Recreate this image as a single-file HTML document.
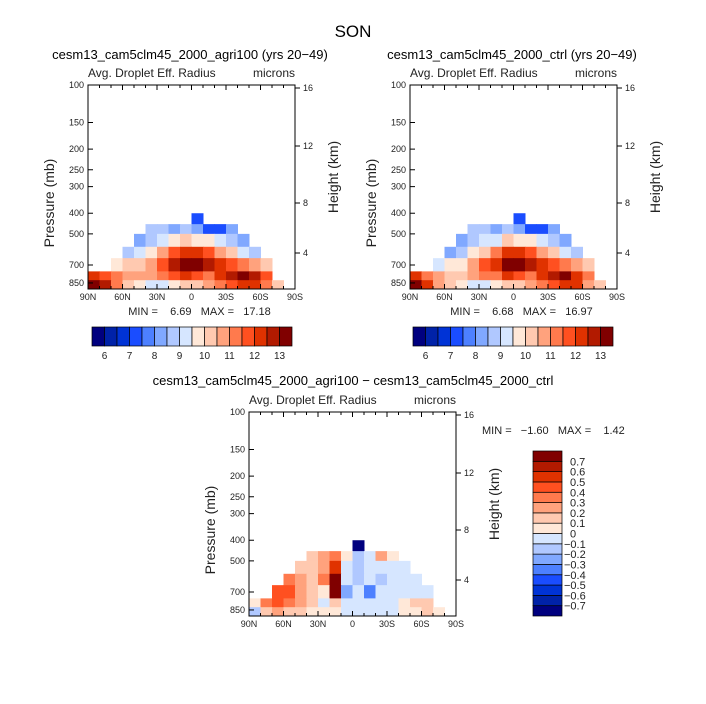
<!DOCTYPE html>
<html><head><meta charset="utf-8"><style>
body{margin:0;background:#fff}
svg{display:block;font-family:"Liberation Sans",sans-serif}
text{white-space:pre}
</style></head><body>
<svg id="c" width="706" height="704" viewBox="0 0 706 704">
<text x="353" y="37" font-size="17" text-anchor="middle">SON</text>
<text x="190" y="59" font-size="13" text-anchor="middle">cesm13_cam5clm45_2000_agri100 (yrs 20−49)</text>
<text x="512" y="59" font-size="13" text-anchor="middle">cesm13_cam5clm45_2000_ctrl (yrs 20−49)</text>
<text x="353" y="385" font-size="13" text-anchor="middle">cesm13_cam5clm45_2000_agri100 − cesm13_cam5clm45_2000_ctrl</text>
</svg>
<script>
const lats=["90N","60N","30N","0","30S","60S","90S"];
const pTicks=[100,150,200,250,300,400,500,700,850];
const hTicks=["16","12","8","4"];
const rowTops=[400,450,500,575,650,750,825];
const rowBots=[450,500,575,650,750,825,900];
const levelsMain=[6,6.5,7,7.5,8,8.5,9,9.5,10,10.5,11,11.5,12,12.5,13];
const levelsDiff=[-0.7,-0.6,-0.5,-0.4,-0.3,-0.2,-0.1,0,0.1,0.2,0.3,0.4,0.5,0.6,0.7];
const n=null;
const agri=[
[n,n,n,n,n,n,n,n,n,7,n,n,n,n,n,n,n,n],
[n,n,n,n,n,8.5,8.5,8,8.5,8,7,7,8,n,n,n,n,n],
[n,n,n,n,8,8.5,9,9.5,10,9.5,9.5,9,8.5,8,n,n,n,n],
[n,n,n,8.5,9,9.5,10.5,11.5,12.2,12,11.5,10.5,10,9,8.5,n,n,n],
[n,n,9.5,10,10,10.5,11.5,12.5,13.5,13,12.5,12,11.5,11,10.5,10,n,n],
[12,11.5,11,10.5,10.5,10.5,11,11.5,12,11.5,11,12,12.5,13,12.5,11.5,n,n],
[13,12.5,11,10,9.5,9,9,9.5,10,10,10.5,11,11.5,12,12,11,10,n]];
const ctrl=[
[n,n,n,n,n,n,n,n,n,7,n,n,n,n,n,n,n,n],
[n,n,n,n,n,8.5,8.5,8,8.5,8,7,7,8,n,n,n,n,n],
[n,n,n,n,8,8.5,9,9.2,10,9.5,9.5,9,8.5,8,n,n,n,n],
[n,n,n,8.3,8.8,9.5,10.3,11,12,12,11.5,10.5,10,9,8.5,n,n,n],
[n,n,9.2,9.7,9.8,10.5,11.5,12,13.5,13,12.7,12,11.5,11,10.5,10,n,n],
[12,11.2,10.7,10.2,10.3,10.5,11,11.4,12,11.5,11.1,12,12.5,13,12.4,11.4,n,n],
[13,12.4,10.9,10,9.5,9,9,9.5,10,10,10.5,11,11.5,12,12,10.9,10,n]];
const diff=[
[n,n,n,n,n,n,n,n,n,-0.75,n,n,n,n,n,n,n,n],
[n,n,n,n,n,0.1,0.2,0.3,0.05,-0.2,-0.1,0.2,0.05,n,n,n,n,n],
[n,n,n,n,0.1,0.15,0.2,0.5,-0.1,-0.2,-0.1,-0.1,-0.05,-0.1,n,n,n,n],
[n,n,n,0.3,0.2,0.1,0.3,0.75,-0.1,-0.2,-0.05,-0.2,-0.1,-0.05,-0.1,n,n,n],
[n,n,0.45,0.4,0.2,0.1,0.05,0.75,-0.3,-0.1,-0.4,-0.1,-0.1,-0.05,-0.1,-0.05,n,n],
[0.05,0.3,0.4,0.3,0.2,0.1,-0.1,0.1,-0.05,-0.05,-0.1,-0.05,-0.05,0.05,0.1,0.1,n,n],
[-0.2,0.1,0.2,0.1,0.1,0.05,0.05,0.05,-0.05,-0.05,-0.05,-0.05,-0.05,0.05,0.05,0.1,0.05,n]];
const colors=["#00007f","#0022a8","#0033d6","#1a4dff","#4d80ff","#80a8ff","#b0c8ff","#d6e6ff","#ffe8d8","#ffc9b0","#ffa27d","#ff7a4d","#ff5020","#e03200","#b21a00","#800000"];

const NS="http://www.w3.org/2000/svg";
const svg=document.getElementById('c');
function el(tag,attrs,parent){const e=document.createElementNS(NS,tag);for(const k in attrs)e.setAttribute(k,attrs[k]);(parent||svg).appendChild(e);return e;}
function txt(x,y,s,size,anchor,parent){const t=el('text',{x:x,y:y,'font-size':size,'text-anchor':anchor||'middle',fill:'#222'},parent);t.textContent=s;return t;}
function colorFor(v,lv){let i=0;while(i<lv.length&&v>=lv[i])i++;return colors[i];}

function panel(ox,oy,field,lv,name,minmax){
  const W=207,H=204,k=92.5;
  const g=el('g',{});
  
  
  const xS=lat=>ox+(lat/180)*W;
  const yS=p=>oy+Math.log(p/100)*k;
  const cols=field[0].length;
  field.forEach((row,r)=>row.forEach((v,c)=>{
    if(v===null)return;
    const x0=xS(c*180/cols),x1=xS((c+1)*180/cols);
    const y0=yS(rowTops[r]),y1=Math.min(yS(rowBots[r]),oy+H);
    const rc=el('rect',{x:x0,y:y0,width:x1-x0+0.5,height:y1-y0+0.5,fill:colorFor(v,lv)},g);
    
    
  }));
  el('rect',{x:ox,y:oy,width:W,height:H,fill:'none',stroke:'#000','stroke-width':1},g);
  for(let d=0;d<=180;d+=10){const x=xS(d);const L=d%30===0?5:3;
    el('line',{x1:x,x2:x,y1:oy+H,y2:oy+H-L,stroke:'#000'},g);
    el('line',{x1:x,x2:x,y1:oy,y2:oy+L,stroke:'#000'},g);}
  lats.forEach((s,i)=>txt(xS(i*30),oy+H+11,s,9,'middle',g));
  pTicks.forEach(p=>{const y=yS(p);el('line',{x1:ox,x2:ox+5,y1:y,y2:y,stroke:'#000'},g);
    txt(ox-4,y+3,String(p),9,'end',g);});
  const hy=[3,61,118,168];
  hTicks.forEach((s,i)=>{const y=oy+hy[i];el('line',{x1:ox+W,x2:ox+W+5,y1:y,y2:y,stroke:'#000'},g);
    txt(ox+W+8,y+3,s,9,'start',g);});
  const yl=txt(0,0,'Pressure (mb)',14,'middle',g);yl.setAttribute('transform',`translate(${ox-34},${oy+H/2+16}) rotate(-90)`);
  
  const yr=txt(0,0,'Height (km)',14,'middle',g);yr.setAttribute('transform',`translate(${ox+W+43},${oy+H/2-10}) rotate(-90)`);
  
  txt(ox,oy-8,'Avg. Droplet Eff. Radius',12,'start',g);
  txt(ox+W,oy-8,'microns',12,'end',g);
  if(minmax)txt(ox+W/2+8,oy+H+26,minmax,11,'middle',g);
}
function hbar(ox,oy,name){
  const g=el('g',{});
  const w=12.5;
  colors.forEach((c,i)=>el('rect',{x:ox+i*w,y:oy,width:w,height:19,fill:c,stroke:'#000','stroke-width':0.7},g));
  levelsMain.forEach((v,i)=>{if(Number.isInteger(v))txt(ox+(i+1)*w,oy+32,String(v),10,'middle',g);});
}
panel(88,85,agri,levelsMain,'agri100-panel','MIN =    6.69   MAX =   17.18');
panel(410,85,ctrl,levelsMain,'ctrl-panel','MIN =    6.68   MAX =   16.97');
panel(249,412,diff,levelsDiff,'diff-panel',null);
hbar(92,327,'left-colorbar');
hbar(413,327,'right-colorbar');
txt(482,434,'MIN =   −1.60   MAX =    1.42',11,'start');
const vb=el('g',{});
const bh=165/16;
colors.forEach((c,i)=>el('rect',{x:533,y:451+(15-i)*bh,width:29,height:bh,fill:c,stroke:'#000','stroke-width':0.7},vb));
levelsDiff.forEach((v,i)=>{const y=451+(15-i-1)*bh+bh;txt(v<0?564:570,y+4,(v<0?'−':'')+(Math.abs(v)<1e-9?'0':String(Math.abs(v))),11,'start',vb);});
</script>
</body></html>
